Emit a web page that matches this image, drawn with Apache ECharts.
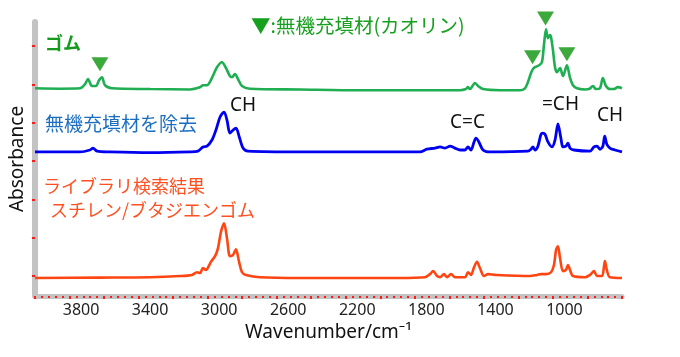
<!DOCTYPE html>
<html>
<head>
<meta charset="utf-8">
<script src="https://cdn.jsdelivr.net/npm/echarts@6/dist/echarts.min.js"></script>
<style>html,body{margin:0;padding:0;background:#fff;}#c{width:680px;height:357px;}</style>
</head>
<body>
<div id="c"></div>
<script>
// Wavenumber (cm-1) / offset absorbance pairs
var rubberWn = [4000,3855,3739,3710,3693,3670,3647,3629,3612,3595,3554,3334,3102,3044,3027,3004,2975,2946,2917,2894,2871,2859,2842,2824,2801,2755,2465,2118,1770,1538,1504,1492,1481,1463,1452,1434,1405,1307,1191,1162,1145,1127,1116,1104,1081,1064,1052,1040,1029,1017,1011,1000,988,977,959,942,919,901,884,861,814,791,768,751,728,711,693,670,647,624,600];
var rubberAbs = [4.90,4.89,4.90,5.01,5.14,4.96,4.96,5.11,5.19,4.98,4.90,4.88,4.87,4.93,4.98,4.98,5.17,5.45,5.58,5.43,5.22,5.19,5.27,5.14,4.96,4.89,4.87,4.85,4.85,4.85,4.88,4.93,4.88,4.98,5.04,4.96,4.88,4.85,4.85,4.90,5.06,5.30,5.40,5.45,5.50,5.58,6.03,6.44,6.21,6.29,6.23,5.90,5.45,5.32,5.43,5.22,5.50,5.17,4.98,4.90,4.87,4.88,4.96,4.88,4.90,5.17,4.96,4.88,4.88,4.93,4.90];

var removedWn = [4000,3739,3681,3664,3641,3566,3334,3102,3056,3027,3004,2975,2952,2928,2905,2888,2871,2853,2836,2818,2795,2766,2465,2118,1770,1730,1683,1654,1625,1596,1568,1538,1509,1492,1475,1457,1446,1429,1405,1365,1145,1127,1116,1104,1087,1069,1058,1046,1029,1006,988,971,954,942,925,913,901,878,785,762,745,728,711,700,688,670,641,600];
var removedAbs = [3.24,3.24,3.29,3.34,3.26,3.24,3.22,3.24,3.26,3.37,3.39,3.55,3.81,4.15,4.28,4.07,3.73,3.81,3.86,3.65,3.34,3.26,3.24,3.24,3.24,3.31,3.34,3.37,3.34,3.39,3.34,3.29,3.29,3.37,3.29,3.50,3.60,3.50,3.29,3.24,3.26,3.31,3.37,3.29,3.39,3.70,3.73,3.70,3.50,3.37,3.55,3.97,3.60,3.37,3.39,3.47,3.34,3.29,3.26,3.37,3.39,3.31,3.39,3.65,3.44,3.34,3.29,3.24];

var libraryWn = [4000,3624,3334,3160,3091,3062,3044,3027,3010,2981,2957,2940,2923,2905,2888,2871,2853,2836,2818,2801,2778,2697,2465,2118,1886,1741,1712,1694,1671,1654,1631,1613,1590,1567,1509,1492,1475,1457,1440,1423,1399,1376,1336,1133,1092,1069,1040,1011,994,982,971,959,942,925,913,901,884,814,785,762,745,716,704,699,688,670,600];
var libraryAbs = [-0.05,-0.04,-0.03,0.00,0.03,0.10,0.08,0.21,0.16,0.37,0.52,0.73,1.15,1.38,0.99,0.52,0.55,0.70,0.37,0.10,0.03,-0.03,-0.05,-0.05,-0.05,-0.03,0.05,0.13,0.00,-0.03,0.05,-0.03,0.05,-0.03,-0.03,0.10,0.03,0.23,0.37,0.21,0.00,0.05,0.03,0.00,0.03,0.05,0.05,0.10,0.29,0.68,0.78,0.47,0.13,0.16,0.29,0.16,0.00,-0.03,0.03,0.13,0.00,0.00,0.26,0.39,0.16,-0.03,-0.05];

// Kaolin filler markers (wavenumber, offset absorbance)
var kaolinWn = [3624, 1118, 1043, 919];
var kaolinAbs = [5.53, 5.71, 6.72, 5.79];

var xTickLabels = [3800, 3400, 3000, 2600, 2200, 1800, 1400, 1000];
var yTickValues = [0, 1, 2, 3, 4, 5, 6];

function pairs(xs, ys) { return xs.map(function (x, i) { return [x, ys[i]]; }); }

var CJK = "'Noto Sans CJK JP', 'Noto Sans', sans-serif";
var LAT = "'Noto Sans', 'Noto Sans CJK JP', sans-serif";

var chart = echarts.init(document.getElementById('c'), null, {renderer: 'canvas'});
chart.setOption({
  animation: false,
  backgroundColor: '#fff',
  grid: {left: 35, right: 58, top: 22, bottom: 61, containLabel: false},
  xAxis: {
    type: 'value', min: 600, max: 4000, interval: 200, inverse: true,
    name: 'Wavenumber/cm\u207B\u00B9', nameLocation: 'middle', nameGap: 26,
    nameTextStyle: {fontFamily: LAT, fontSize: 19, color: '#111'},
    axisLine: {show: true, onZero: false, lineStyle: {color: '#c3c3c3', width: 5}},
    axisTick: {show: true, length: 3, lineStyle: {color: '#ff1a1a', width: 2}},
    minorTick: {show: true, splitNumber: 5, length: 2, lineStyle: {color: '#ff1a1a', width: 2}},
    splitLine: {show: false},
    axisLabel: {customValues: xTickLabels, formatter: function (v) { return String(v); },
      fontFamily: LAT, fontSize: 16, color: '#222', margin: 6, padding: [0, 0, 0, 23]}
  },
  yAxis: {
    type: 'value', min: -0.52, max: 6.63,
    name: 'Absorbance', nameLocation: 'middle', nameGap: 8,
    nameTextStyle: {fontFamily: LAT, fontSize: 19, color: '#111'},
    axisLine: {show: true, onZero: false, lineStyle: {color: '#c3c3c3', width: 6}},
    axisTick: {show: true, customValues: yTickValues, length: 3, lineStyle: {color: '#ff1a1a', width: 2}},
    splitLine: {show: false},
    axisLabel: {show: false}
  },
  series: [
    {type: 'line', data: pairs(rubberWn, rubberAbs), showSymbol: false, smooth: 0.3,
     lineStyle: {color: '#1fae52', width: 2.6}, z: 3},
    {type: 'line', data: pairs(removedWn, removedAbs), showSymbol: false, smooth: 0.3,
     lineStyle: {color: '#0000f0', width: 2.8}, z: 3},
    {type: 'line', data: pairs(libraryWn, libraryAbs), showSymbol: false, smooth: 0.3,
     lineStyle: {color: '#ff4612', width: 2.6}, z: 3},
    {type: 'scatter', data: pairs(kaolinWn, kaolinAbs), symbol: 'triangle', symbolRotate: 180,
     symbolSize: [17, 14], clip: false, itemStyle: {color: '#0b930b'}, z: 4}
  ],
  graphic: [
    {type: 'text', x: 251, y: 26, style: {text: '\u25BC:無機充填材(カオリン)', fill: '#17a01e', font: '19.5px ' + CJK, verticalAlign: 'middle', align: 'left'}},
    {type: 'text', x: 45, y: 43, style: {text: 'ゴム', fill: '#169a1e', font: 'bold 18px ' + CJK, verticalAlign: 'middle', align: 'left'}},
    {type: 'text', x: 45, y: 124, style: {text: '無機充填材を除去', fill: '#1b6ec2', font: '19px ' + CJK, verticalAlign: 'middle', align: 'left'}},
    {type: 'text', x: 230, y: 106, style: {text: 'CH', fill: '#111', font: '19px ' + LAT, verticalAlign: 'middle', align: 'left'}},
    {type: 'text', x: 450, y: 123, style: {text: 'C=C', fill: '#111', font: '19px ' + LAT, verticalAlign: 'middle', align: 'left'}},
    {type: 'text', x: 542, y: 105, style: {text: '=CH', fill: '#111', font: '19px ' + LAT, verticalAlign: 'middle', align: 'left'}},
    {type: 'text', x: 597, y: 116, style: {text: 'CH', fill: '#111', font: '19px ' + LAT, verticalAlign: 'middle', align: 'left'}},
    {type: 'text', x: 43, y: 186, style: {text: 'ライブラリ検索結果', fill: '#ff5022', font: '18px ' + CJK, verticalAlign: 'middle', align: 'left'}},
    {type: 'text', x: 50, y: 210, style: {text: 'スチレン/ブタジエンゴム', fill: '#ff5022', font: '18px ' + CJK, verticalAlign: 'middle', align: 'left'}}
  ]
});
</script>
</body>
</html>
